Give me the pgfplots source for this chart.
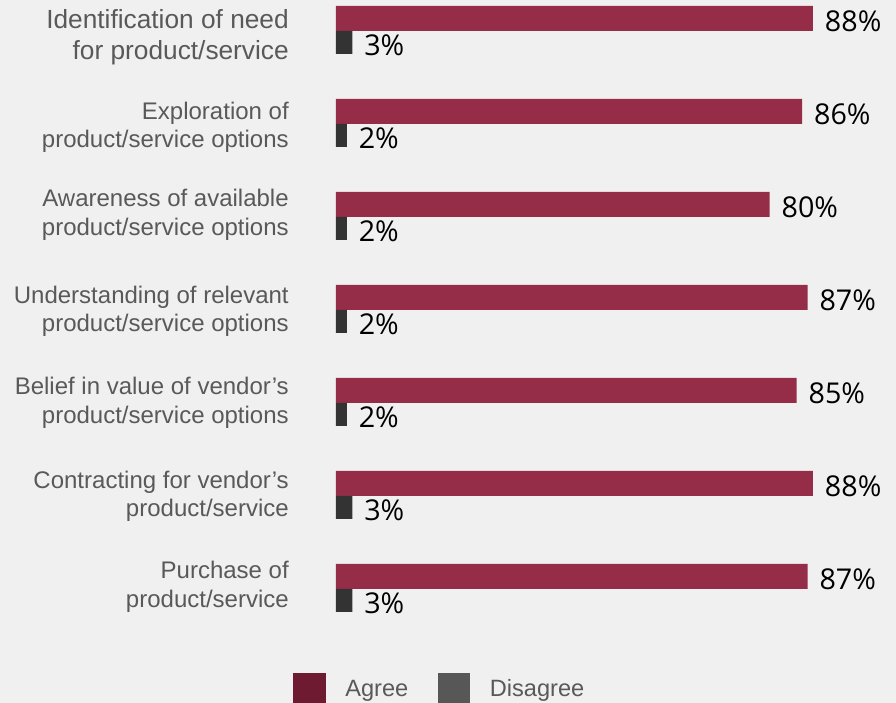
\documentclass[border=0pt]{standalone}
\usepackage{pgfplots}
\pgfplotsset{compat=1.18}
\usepackage{fontspec}
\setmainfont{Liberation Sans}
\newfontfamily\valfont{Open Sans}
\definecolor{bg}{HTML}{F0F0F0}
\definecolor{agree}{HTML}{952D48}
\definecolor{disagree}{HTML}{333333}
\definecolor{agreeleg}{HTML}{6E1A31}
\definecolor{disleg}{HTML}{575757}
\definecolor{lab}{HTML}{595959}
\newcommand{\bigfont}{\fontsize{19.7}{21.4}\selectfont}
\begin{document}
\begin{tikzpicture}
\path[use as bounding box, fill=bg] (0pt,0pt) rectangle (672pt,527.25pt);
\begin{axis}[
  at={(252pt,538.875pt)}, anchor=north west,
  scale only axis, width=406.5pt, height=488.25pt,
  xmin=0, xmax=100, ymin=-0.5, ymax=6.5,
  axis line style={draw=none}, tick style={draw=none},
  xtick=\empty,
  ytick={0.0215,0.9968,2,2.986,4.0247,4.9645,5.9355},
  yticklabels={{Purchase of\\product/service},
               {Contracting for vendor’s\\product/service},
               {Belief in value of vendor’s\\product/service options},
               {Understanding of relevant\\product/service options},
               {Awareness of available\\product/service options},
               {Exploration of\\product/service options},
               {\bigfont Identification of need\\[1.85pt]\bigfont for product/service}},
  yticklabel style={align=right, anchor=east, inner sep=0pt, text=lab,
     font=\fontsize{18}{21.4}\selectfont, xshift=-35.25pt},
  point meta=x,
  nodes near coords={\pgfmathprintnumber[assume math mode=true]{\pgfplotspointmeta}\%},
  nodes near coords style={font=\valfont\fontsize{21.5}{24}\selectfont, inner sep=0pt,
     anchor=west, xshift=8.8pt, text=black},
  legend columns=2,
  legend style={draw=none, fill=none, at={(-0.0788,-0.0822)}, anchor=west,
     inner sep=0pt, outer sep=0pt,
     nodes={inner sep=0pt, text=lab, font=\fontsize{17.7}{20}\selectfont},
     /tikz/every odd column/.append style={column sep=15pt},
     /tikz/every even column/.append style={column sep=22.2pt}},
]
\addplot[xbar, fill=agree, draw=none, bar width=18.75pt, bar shift=9.375pt, forget plot,
  every node near coord/.append style={yshift=7.4pt}]
  coordinates {(88,6) (86,5) (80,4) (87,3) (85,2) (88,1) (87,0)};
\addplot[xbar, fill=disagree, draw=none, bar width=17.25pt, bar shift=-8.625pt, forget plot,
  every node near coord/.append style={yshift=-10.6pt}]
  coordinates {(3,6) (2,5) (2,4) (2,3) (2,2) (3,1) (3,0)};
\addlegendimage{legend image code/.code={\fill[agreeleg] (0pt,-11.8pt) rectangle (23.6pt,11.8pt);}}
\addlegendentry{Agree}
\addlegendimage{legend image code/.code={\fill[disleg] (0pt,-11.8pt) rectangle (23.6pt,11.8pt);}}
\addlegendentry{Disagree}
\end{axis}
\end{tikzpicture}
\end{document}
